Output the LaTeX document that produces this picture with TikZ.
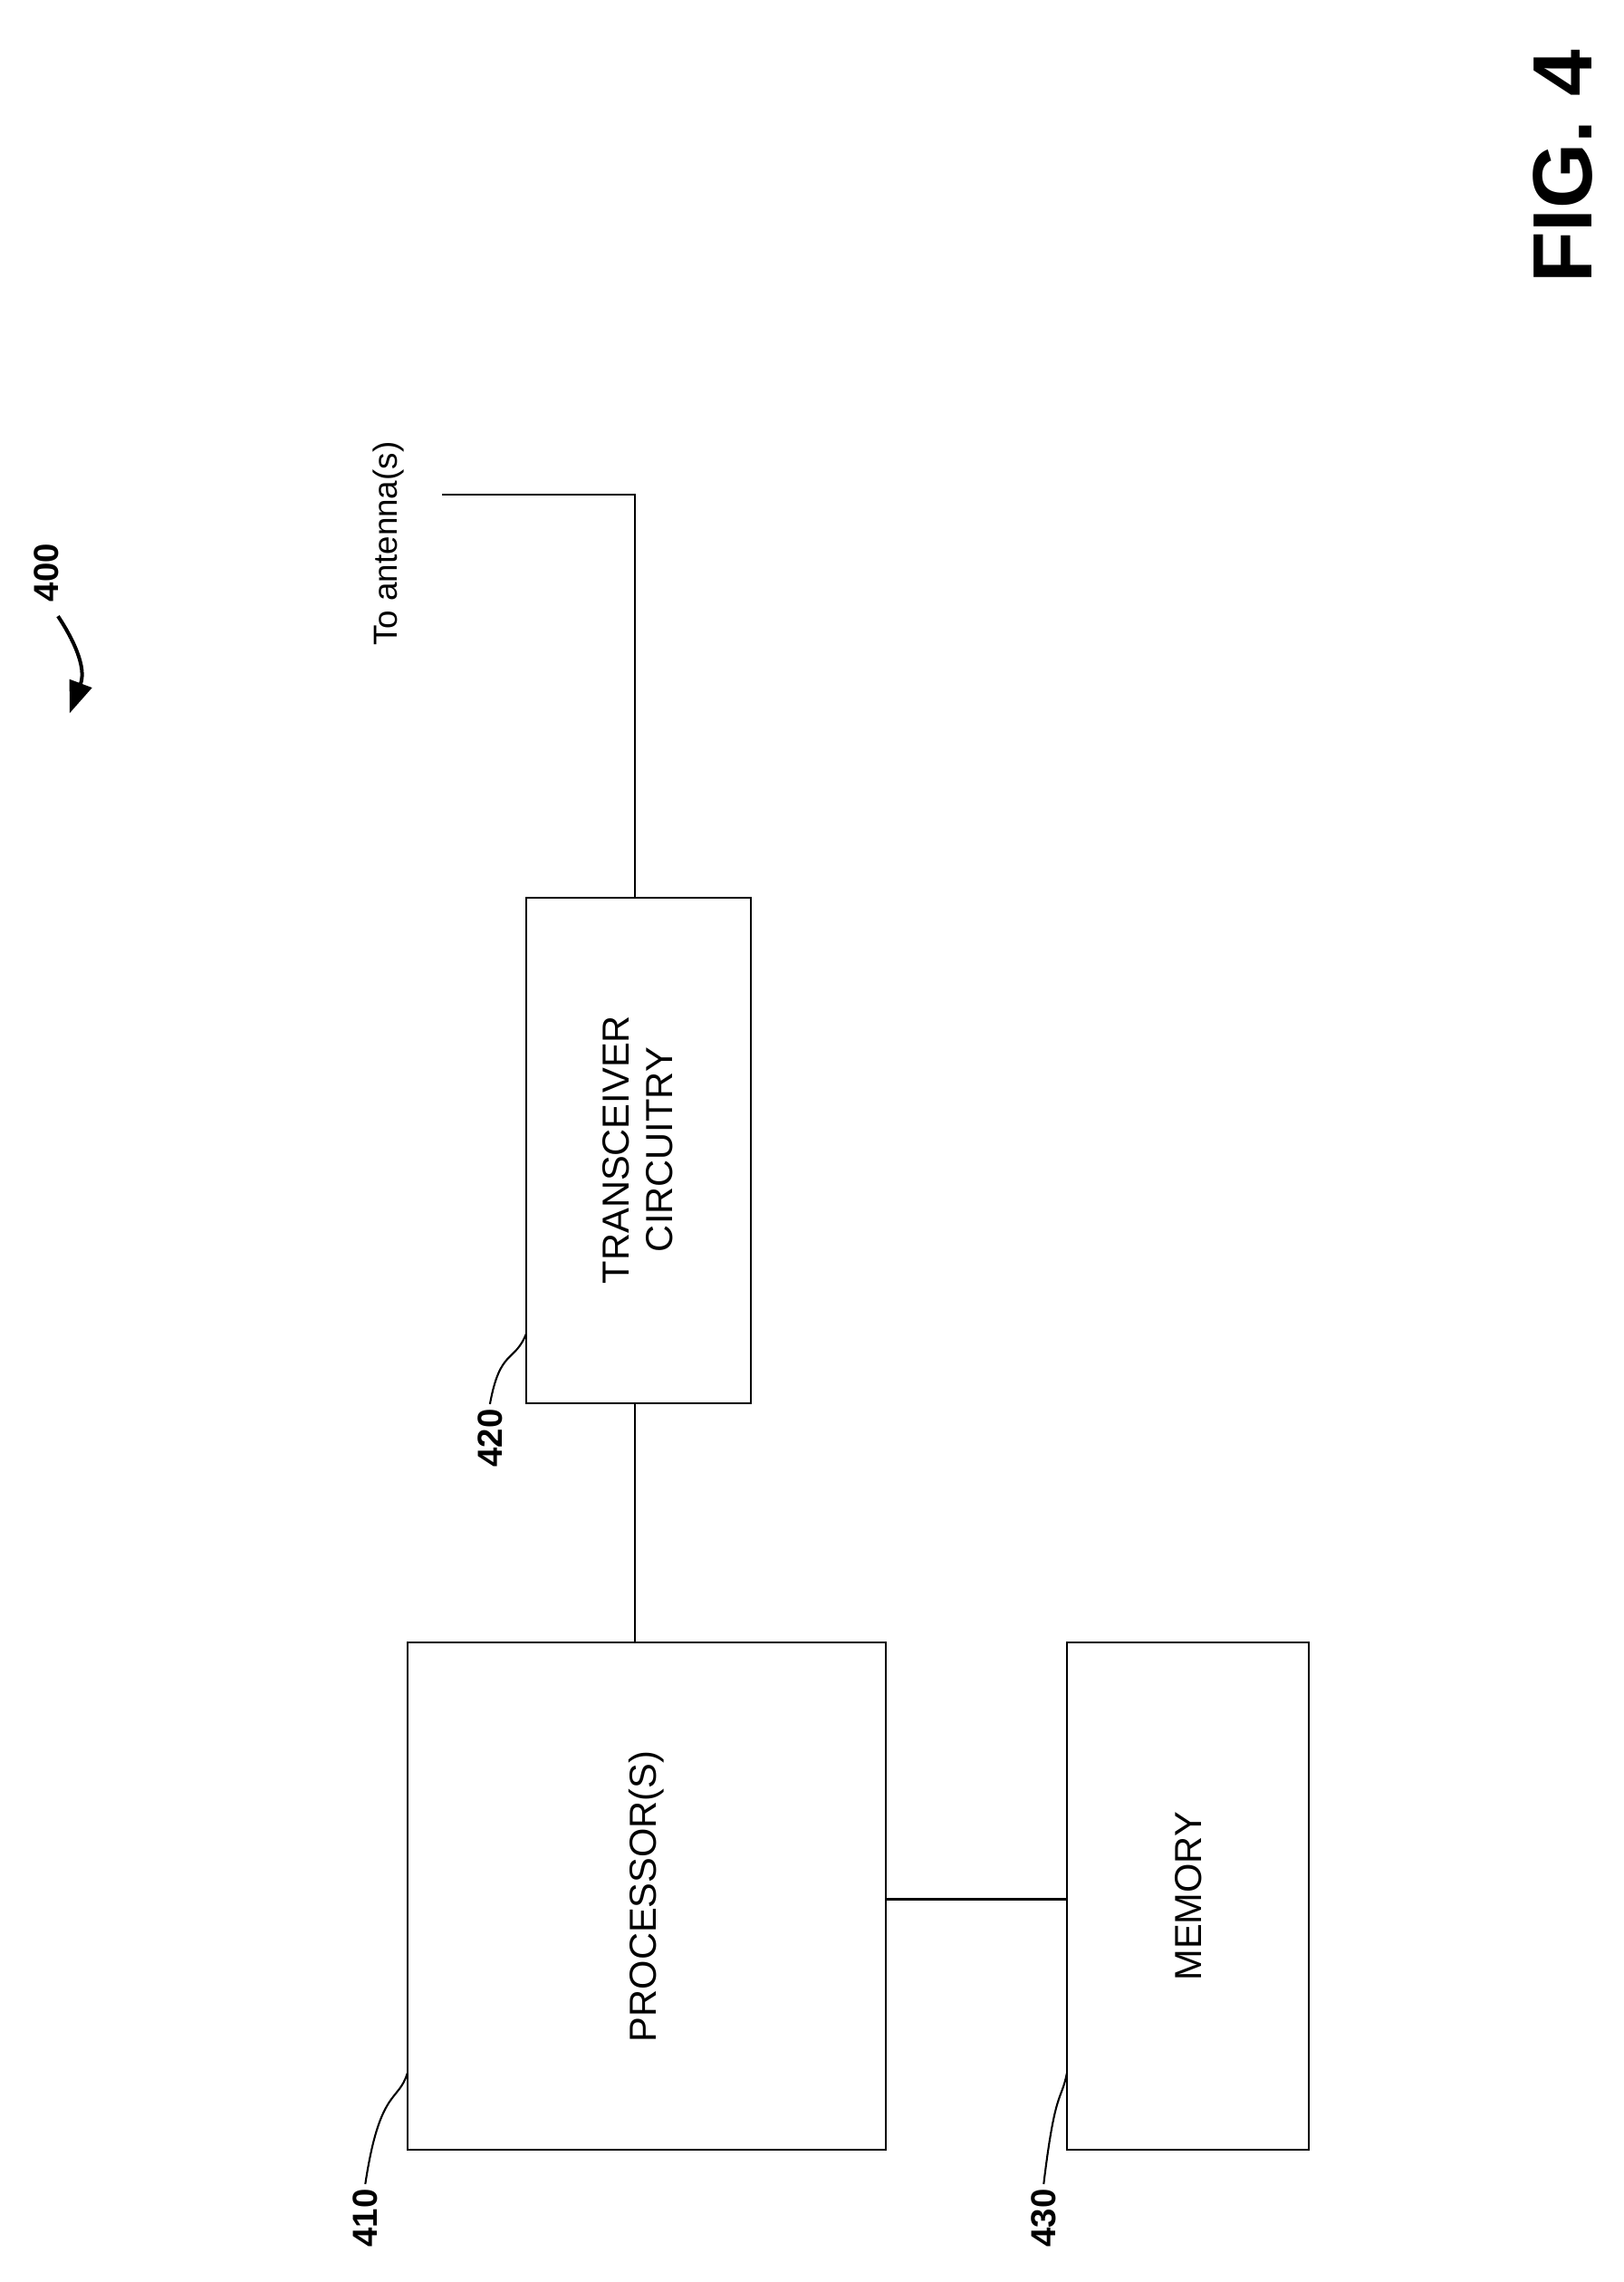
\documentclass[tikz,border=0pt]{standalone}
\usepackage{fontspec}
\setmainfont{Liberation Sans}
\usetikzlibrary{arrows.meta}
\begin{document}
\begin{tikzpicture}[x=1pt,y=-1pt,
 box/.style={draw,line width=1.3pt,minimum width=0pt},
 lbl/.style={rotate=90,font=\fontsize{26}{30}\selectfont},
 num/.style={rotate=90,font=\fontsize{24}{28}\selectfont\bfseries},
 ln/.style={line width=1.3pt}]
\useasboundingbox (0,0) rectangle (1120,1574);
\draw[box] (281,1133) rectangle (611,1483) coordinate (pse);
\coordinate (p) at (281,1133);
\draw[box] (363,619) rectangle (518,968);
\draw[box] (736,1133) rectangle (903,1483);
\node[lbl] (pt) at (446,1308) {PROCESSOR(S)};
\node[lbl,align=center] (tt) at (440,793) {TRANSCEIVER\\CIRCUITRY};
\node[lbl] (mt) at (820,1308) {MEMORY};
\node[lbl,font=\fontsize{23}{27}\selectfont] (ant) at (268,375) {To antenna(s)};
\coordinate (tl) at (438,619);
\coordinate (corner) at (438,341);
\coordinate (aend) at (305,341);
\draw[ln] (tl) -- (corner) -- (aend);
\draw[ln] (438,968) -- (438,1133);
\draw[ln] (611,1310) -- (736,1310);
\node[num] (n410) at (252,1530) {410};
\node[num] (n420) at (338,992) {420};
\node[num] (n430) at (720,1530) {430};
\draw[ln] (n410.east) .. controls (262,1440) and (275,1450) .. (281,1430);
\draw[ln] (n420.east) .. controls (345,930) and (355,940) .. (363,920);
\draw[ln] (n430.east) .. controls (728,1440) and (732,1450) .. (736,1430);
\node[num] (n400) at (32,395) {400};
\draw[line width=2.5pt,-{Triangle[length=22pt,width=16pt]}] (40,425) .. controls (50,440) and (60,460) .. (48,492);
\node[rotate=90,font=\fontsize{58}{60}\selectfont\bfseries] (fig) at (1078,115) {FIG. 4};
\end{tikzpicture}
\end{document}
